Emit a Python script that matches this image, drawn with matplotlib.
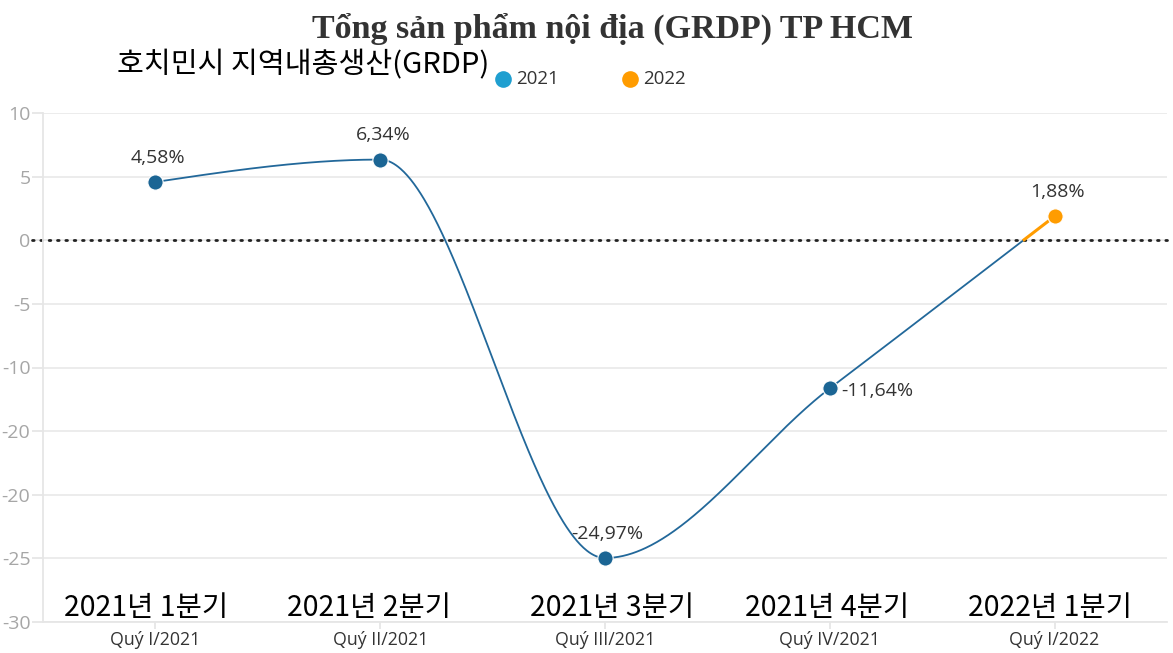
import numpy as np
import matplotlib
matplotlib.use("Agg")
import matplotlib.pyplot as plt
from matplotlib.lines import Line2D

# ---------------- data ----------------
quarters_vi = ["Quý I/2021", "Quý II/2021", "Quý III/2021", "Quý IV/2021", "Quý I/2022"]
quarters_ko = ["2021년 1분기", "2021년 2분기", "2021년 3분기", "2021년 4분기", "2022년 1분기"]
growth = [4.58, 6.34, -24.97, -11.64, 1.88]
point_labels = ["4,58%", "6,34%", "-24,97%", "-11,64%", "1,88%"]
years = ["2021", "2021", "2021", "2021", "2022"]
ytick_values = [10, 5, 0, -5, -10, -15, -20, -25, -30]
ytick_labels = ["10", "5", "0", "-5", "-10", "-20", "-20", "-25", "-30"]
title = "Tổng sản phẩm nội địa (GRDP) TP HCM"
subtitle = "호치민시 지역내총생산(GRDP)"

C_LINE = "#22689a"
C_MARK = "#1b6594"
C_2021_LEG = "#1f9fd0"
C_2022 = "#ff9c00"
C_TEXT = "#333333"


def monotone_slopes(x, y):
    x = np.asarray(x, float); y = np.asarray(y, float)
    n = len(x)
    h = np.diff(x); s = np.diff(y) / h
    t = np.zeros(n)
    for i in range(1, n - 1):
        s0, s1 = s[i - 1], s[i]
        p = (s0 * h[i] + s1 * h[i - 1]) / (h[i - 1] + h[i])
        t[i] = (np.sign(s0) + np.sign(s1)) * min(abs(s0), abs(s1), 0.5 * abs(p))
    t[0] = (3 * s[0] - t[1]) / 2
    t[-1] = (3 * s[-1] - t[-2]) / 2
    return t


def hermite(x0, x1, y0, y1, m0, m1, num=200):
    u = np.linspace(0, 1, num)
    hh = x1 - x0
    h00 = 2 * u**3 - 3 * u**2 + 1
    h10 = u**3 - 2 * u**2 + u
    h01 = -2 * u**3 + 3 * u**2
    h11 = u**3 - u**2
    return x0 + u * hh, h00 * y0 + h10 * hh * m0 + h01 * y1 + h11 * hh * m1


xs = np.arange(len(growth))
slopes = monotone_slopes(xs, growth)

W, H = 1173, 653
fig = plt.figure(figsize=(W / 100, H / 100), dpi=100)
ax = fig.add_axes([43 / W, 1 - 622 / H, (1167 - 43) / W, (622 - 113) / H])
ax.set_xlim(-0.5, 4.5)
ax.set_ylim(-30, 10)

# grid
for v in ytick_values:
    ax.axhline(v, color="#ebebeb", lw=1.3, zorder=0)
ax.spines[["top", "right"]].set_visible(False)
ax.spines["left"].set_color("#e6e6e6")
ax.spines["bottom"].set_color("#e6e6e6")
ax.spines["left"].set_linewidth(1.3)
ax.spines["bottom"].set_linewidth(1.3)

ax.set_yticks(ytick_values)
ax.set_yticklabels(ytick_labels, fontsize=14, color="#a6a6a6", family="Open Sans")
ax.tick_params(axis="y", length=8, color="#e6e6e6", width=1.3, pad=1)
ax.set_xticks(xs)
ax.set_xticklabels(quarters_vi, fontsize=12.8, color=C_TEXT, family="Open Sans")
ax.tick_params(axis="x", length=5, color="#e6e6e6", width=1.3, pad=1.5)

# zero dotted line
ax.plot([-0.55, 4.5], [0, 0], color="#222222", lw=2, ls=(0, (0.6, 2.4)),
        dash_capstyle="round", clip_on=False, zorder=2)

# smooth line
for i in range(len(growth) - 1):
    sx, sy = hermite(xs[i], xs[i + 1], growth[i], growth[i + 1], slopes[i], slopes[i + 1])
    if years[i + 1] != years[i]:
        k = np.argmax(sy >= 0)
        ax.plot(sx[:k + 1], sy[:k + 1], color=C_LINE, lw=1.3, zorder=3)
        ax.plot(sx[k:], sy[k:], color=C_2022, lw=2.2, zorder=3)
    else:
        ax.plot(sx, sy, color=C_LINE, lw=1.3, zorder=3)

for i, (xv, yv) in enumerate(zip(xs, growth)):
    col = C_2022 if years[i] == "2022" else C_MARK
    ax.plot(xv, yv, "o", ms=11, color=col, mec="white", mew=0.8, zorder=4)
    if i == 3:
        ax.annotate(point_labels[i], (xv, yv), xytext=(8, -2), textcoords="offset points",
                    ha="left", va="center", fontsize=14, color=C_TEXT, family="Open Sans")
    else:
        ax.annotate(point_labels[i], (xv, yv), xytext=(2, 11), textcoords="offset points",
                    ha="center", va="bottom", fontsize=14, color=C_TEXT, family="Open Sans")

# Korean category labels inside plot
ko_offsets = [-0.04, -0.05, 0.03, -0.01, -0.02]
for i, lab in enumerate(quarters_ko):
    ax.text(xs[i] + ko_offsets[i], -28.9, lab, ha="center", va="center", fontsize=20.5,
            color="black", family=["Noto Sans CJK KR", "DejaVu Sans"], fontweight="light")

# title / subtitle
fig.text(612 / W, 1 - 29 / H, title, ha="center", va="center", fontsize=24.5,
         fontweight="bold", color=C_TEXT, family="Liberation Serif")
fig.text(117 / W, 1 - 65 / H, subtitle, ha="left", va="center", fontsize=21,
         color="black", family=["Noto Sans CJK KR", "DejaVu Sans"], fontweight="light")

# legend
for cx, col, lab in [(503, C_2021_LEG, "2021"), (630, C_2022, "2022")]:
    fig.add_artist(Line2D([cx / W], [1 - 79 / H], marker="o", ms=12, color=col, mew=0,
                          transform=fig.transFigure))
    fig.text((cx + 13) / W, 1 - 79 / H, lab, ha="left", va="center", fontsize=13.5,
             color=C_TEXT, family="Open Sans")

fig.savefig("out.png", dpi=100)
